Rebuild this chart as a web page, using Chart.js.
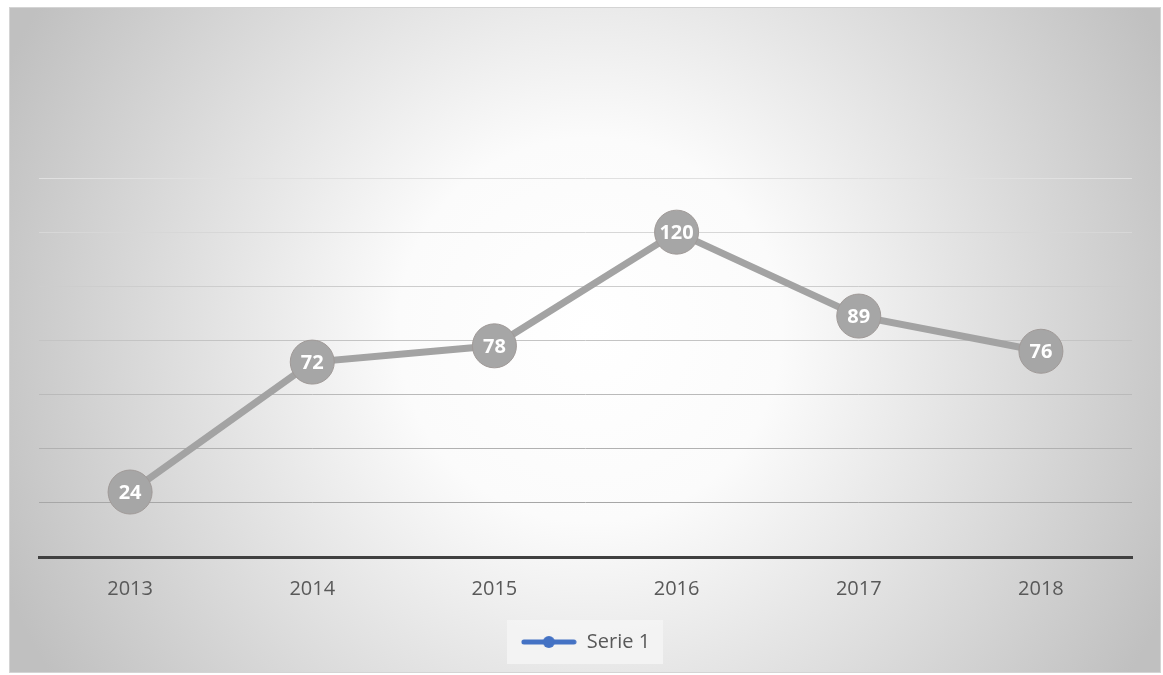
<!DOCTYPE html>
<html>
<head>
<meta charset="utf-8">
<script src="https://cdn.jsdelivr.net/npm/chart.js@4"></script>
<style>
  html, body { margin: 0; padding: 0; background: #ffffff; }
  #wrap { width: 1163px; height: 675px; position: relative; }
</style>
</head>
<body>
<div id="wrap"><canvas id="c" width="1163" height="675"></canvas></div>
<script>
const categories = ["2013", "2014", "2015", "2016", "2017", "2018"];
const serie1 = [24, 72, 78, 120, 89, 76];
const seriesName = "Serie 1";
const yMin = 0, yMax = 140, yStep = 20;

const FONT = "'Open Sans', 'Liberation Sans', sans-serif";

function gridColor(v) {
  if (v <= 0) return 'rgba(0,0,0,0)';
  const t = v / yMax;
  const g = Math.round(158 + t * 66);
  return `rgb(${g},${g},${g})`;
}

const marker = document.createElement('canvas');
marker.width = 56; marker.height = 14;
(function () {
  const m = marker.getContext('2d');
  m.strokeStyle = '#4472C4';
  m.lineWidth = 5;
  m.lineCap = 'round';
  m.beginPath(); m.moveTo(3, 7); m.lineTo(53, 7); m.stroke();
  m.fillStyle = '#4472C4';
  m.beginPath(); m.arc(28, 7, 6, 0, Math.PI * 2); m.fill();
})();

const bgPlugin = {
  id: 'bg',
  beforeDraw(chart) {
    const ctx = chart.ctx;
    const W = chart.width, H = chart.height;
    ctx.save();
    ctx.fillStyle = '#ffffff';
    ctx.fillRect(0, 0, W, H);
    const x0 = 9, y0 = 7, x1 = 1161, y1 = 673;
    const g = ctx.createRadialGradient(590, 330, 0, 590, 330, 640);
    g.addColorStop(0, '#ffffff');
    g.addColorStop(0.3, '#fbfbfb');
    g.addColorStop(1, '#c0c0c0');
    ctx.fillStyle = g;
    ctx.fillRect(x0, y0, x1 - x0, y1 - y0);
    ctx.strokeStyle = '#d4d4d4';
    ctx.lineWidth = 1;
    ctx.strokeRect(x0 + 0.5, y0 + 0.5, x1 - x0 - 1, y1 - y0 - 1);
    const lg = chart.legend;
    if (lg && lg.legendHitBoxes && lg.legendHitBoxes.length) {
      const hb = lg.legendHitBoxes[0];
      const cy = hb.top + hb.height / 2;
      ctx.fillStyle = 'rgba(245,245,245,0.85)';
      ctx.fillRect(507, cy - 22, 156, 44);
    }
    ctx.restore();
  }
};

const labelPlugin = {
  id: 'ptlabels',
  afterDatasetsDraw(chart) {
    const ctx = chart.ctx;
    const meta = chart.getDatasetMeta(0);
    const data = chart.data.datasets[0].data;
    ctx.save();
    ctx.fillStyle = '#ffffff';
    ctx.font = `bold 20px ${FONT}`;
    ctx.textAlign = 'center';
    ctx.textBaseline = 'middle';
    meta.data.forEach((pt, i) => {
      ctx.fillText(String(data[i]), pt.x, pt.y + 1);
    });
    ctx.restore();
  }
};

new Chart(document.getElementById('c'), {
  type: 'line',
  data: {
    labels: categories,
    datasets: [{
      label: seriesName,
      data: serie1,
      borderColor: '#a3a3a3',
      borderWidth: 7,
      backgroundColor: '#a5a5a5',
      pointRadius: 22,
      pointHoverRadius: 22,
      pointBackgroundColor: '#a6a6a6',
      pointBorderColor: '#a09a98',
      pointBorderWidth: 1,
      tension: 0,
      fill: false
    }]
  },
  options: {
    responsive: false,
    animation: false,
    devicePixelRatio: 1,
    layout: { padding: { left: 39, right: 31, top: 178, bottom: 13 } },
    plugins: {
      legend: {
        position: 'bottom',
        labels: {
          usePointStyle: true,
          pointStyleWidth: 56,
          color: '#595959',
          font: { family: FONT, size: 20 },
          padding: 19,
          generateLabels(chart) {
            return [{
              text: seriesName,
              fontColor: '#595959',
              pointStyle: marker,
              fillStyle: '#4472C4',
              strokeStyle: '#4472C4',
              lineWidth: 0,
              datasetIndex: 0,
              hidden: false
            }];
          }
        }
      },
      tooltip: { enabled: false },
      title: { display: false }
    },
    scales: {
      x: {
        offset: true,
        grid: { display: false },
        border: { display: true, color: '#404040', width: 3 },
        ticks: {
          color: '#595959',
          font: { family: FONT, size: 20 },
          padding: 12,
          maxRotation: 0
        }
      },
      y: {
        min: yMin,
        max: yMax,
        ticks: { display: false, stepSize: yStep },
        grid: {
          drawTicks: false,
          lineWidth: 1,
          color: (ctx) => gridColor(ctx.tick ? ctx.tick.value : 0)
        },
        border: { display: false },
        afterFit(s) { s.width = 0; }
      }
    }
  },
  plugins: [bgPlugin, labelPlugin]
});
</script>
</body>
</html>
